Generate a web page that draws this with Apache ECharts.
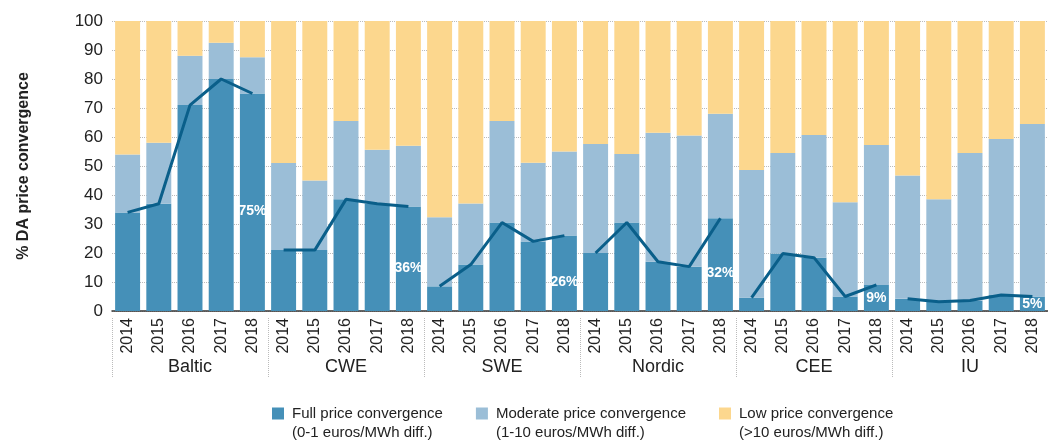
<!DOCTYPE html>
<html lang="en">
<head>
    <meta charset="UTF-8">
    <title>DA price convergence</title>
    <style>
        html, body { margin: 0; padding: 0; background: #fff; }
    </style>
</head>
<body>
    <div id="chart" style="width:1048px; height:445px"></div>
    <script src="https://cdn.jsdelivr.net/npm/echarts@6/dist/echarts.min.js"></script>
    <script>
        // regions and years
        const regions = ['Baltic', 'CWE', 'SWE', 'Nordic', 'CEE', 'IU'];
        const years = ['2014', '2015', '2016', '2017', '2018'];

        // share of hours (%), 5 values per region, in region order
        const fullConv = [
            34, 37, 71, 80, 75,
            21, 21, 38.5, 37, 36,
            8.5, 16, 30.5, 24, 26,
            20, 30.5, 17, 15.3, 32,
            4.6, 19.8, 18.4, 5, 9,
            4.2, 3.2, 3.6, 5.5, 5
        ];
        const moderateConv = [
            20, 21, 17, 12.5, 12.5,
            30, 24, 27, 18.6, 21,
            23.8, 21.1, 35, 27.1, 29,
            37.6, 23.6, 44.5, 45.2, 36,
            44, 34.7, 42.3, 32.5, 48.2,
            42.5, 35.3, 50.9, 53.8, 59.5
        ];
        const lowConv = [
            46, 42, 12, 7.5, 12.5,
            49, 55, 34.5, 44.4, 43,
            67.7, 62.9, 34.5, 48.9, 45,
            42.4, 45.9, 38.5, 39.5, 32,
            51.4, 45.5, 39.3, 62.5, 42.8,
            53.3, 61.5, 45.5, 40.7, 35.5
        ];

        const FONT = "'Liberation Sans', Arial, sans-serif";
        const TXT = '#222';

        // 30 categories: years repeated per region
        const cats = [];
        regions.forEach(r => years.forEach(y => cats.push(y)));

        const chart = echarts.init(document.querySelector('#chart'));

        // label only the last year of every region
        const fullData = fullConv.map((v, i) => (i % 5 === 4) ? {
            value: v,
            label: {
                show: true,
                position: 'inside',
                offset: [0, v > 15 ? 9 : 0],
                formatter: p => Math.round(p.value) + '%',
                color: '#fff',
                fontWeight: 'bold',
                fontSize: 14,
                fontFamily: FONT
            }
        } : v);

        // one trend line per region so the groups are not joined
        const lineSeries = regions.map((r, k) => ({
            name: r + ' trend',
            type: 'line',
            xAxisIndex: 0,
            data: fullConv.map((v, i) => Math.floor(i / 5) === k ? v : '-'),
            showSymbol: false,
            symbol: 'none',
            silent: true,
            z: 5,
            lineStyle: { color: '#0a5f8a', width: 3 }
        }));

        // legend text, the empty first line keeps the square level with line one
        const legendText = {
            'Full price convergence': '\nFull price convergence\n(0-1 euros/MWh diff.)',
            'Moderate price convergence': '\nModerate price convergence\n(1-10 euros/MWh diff.)',
            'Low price convergence': '\nLow price convergence\n(>10 euros/MWh diff.)'
        };

        chart.setOption({
            animation: false,
            textStyle: { fontFamily: FONT },
            grid: { left: 112, right: -5, top: 21, bottom: 134 },
            legend: {
                data: ['Full price convergence', 'Moderate price convergence', 'Low price convergence'],
                left: 267,
                top: 380,
                itemWidth: 12,
                itemHeight: 12,
                itemGap: 33,
                icon: 'rect',
                formatter: n => legendText[n],
                textStyle: {
                    color: TXT,
                    fontSize: 15,
                    lineHeight: 19,
                    padding: [0, 0, 0, 3],
                    fontFamily: FONT
                }
            },
            xAxis: [{
                type: 'category',
                data: cats,
                axisLine: { lineStyle: { color: '#333', width: 1.5 } },
                axisTick: { show: false },
                axisLabel: {
                    interval: 0,
                    rotate: 90,
                    margin: 7,
                    color: TXT,
                    fontSize: 16,
                    fontFamily: FONT
                }
            }, {
                type: 'category',
                data: regions,
                position: 'bottom',
                offset: 7,
                axisLine: { show: false },
                axisTick: {
                    show: true,
                    interval: 0,
                    length: 60,
                    lineStyle: { color: '#bbb', type: 'dotted' }
                },
                axisLabel: {
                    interval: 0,
                    margin: 40,
                    color: TXT,
                    fontSize: 18,
                    fontFamily: FONT
                }
            }],
            yAxis: {
                type: 'value',
                min: 0,
                max: 100,
                interval: 10,
                name: '% DA price convergence',
                nameLocation: 'middle',
                nameGap: 80,
                nameTextStyle: { color: TXT, fontSize: 16, fontWeight: 'bold', fontFamily: FONT },
                axisLine: { show: false },
                axisTick: { show: false },
                axisLabel: { color: TXT, fontSize: 17, margin: 9, fontFamily: FONT },
                splitLine: { lineStyle: { color: '#bbb', type: 'dotted' } }
            },
            series: [{
                name: 'Full price convergence',
                type: 'bar',
                stack: 'total',
                barCategoryGap: '20%',
                data: fullData,
                itemStyle: { color: '#4590b8' }
            }, {
                name: 'Moderate price convergence',
                type: 'bar',
                stack: 'total',
                data: moderateConv,
                itemStyle: { color: '#9bbed7' }
            }, {
                name: 'Low price convergence',
                type: 'bar',
                stack: 'total',
                data: lowConv,
                itemStyle: { color: '#fcd78e' }
            }].concat(lineSeries)
        });
    </script>
</body>
</html>
